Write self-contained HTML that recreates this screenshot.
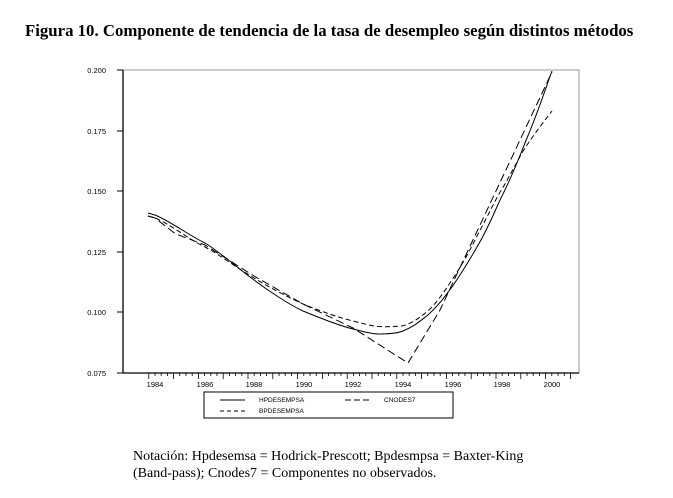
<!DOCTYPE html>
<html><head><meta charset="utf-8"><style>
body{margin:0;background:#fff;width:673px;height:498px;overflow:hidden;position:relative;font-family:"Liberation Serif",serif}
.t{position:absolute;left:25px;top:21px;font-weight:bold;font-size:16.8px;white-space:nowrap}
.c{position:absolute;left:133px;top:448px;font-size:14px;line-height:17px}
</style></head><body>
<div class="t">Figura 10. Componente de tendencia de la tasa de desempleo según distintos métodos</div>
<svg width="673" height="498" style="position:absolute;left:0;top:0" font-family="Liberation Sans, sans-serif">
<rect x="123" y="70" width="456" height="303" fill="none" stroke="#999" stroke-width="1"/>
<line x1="123" y1="70" x2="123" y2="373" stroke="#000" stroke-width="1.3"/>
<line x1="123" y1="373" x2="579" y2="373" stroke="#000" stroke-width="1.3"/>
<g font-size="7.5" text-anchor="end">
<text x="106" y="73">0.200</text><line x1="117" y1="70" x2="123" y2="70" stroke="#000"/>
<text x="106" y="134">0.175</text><line x1="117" y1="131" x2="123" y2="131" stroke="#000"/>
<text x="106" y="194">0.150</text><line x1="117" y1="191" x2="123" y2="191" stroke="#000"/>
<text x="106" y="255">0.125</text><line x1="117" y1="252" x2="123" y2="252" stroke="#000"/>
<text x="106" y="315">0.100</text><line x1="117" y1="312" x2="123" y2="312" stroke="#000"/>
<text x="106" y="376">0.075</text><line x1="117" y1="373" x2="123" y2="373" stroke="#000"/>
</g>
<g stroke="#000" stroke-width="0.8">
<path d="M148.8 373v6M173.6 373v6M198.4 373v6M223.2 373v6M248 373v6M272.8 373v6M297.6 373v6M322.4 373v6M347.2 373v6M372 373v6M396.8 373v6M421.6 373v6M446.4 373v6M471.2 373v6M496 373v6M520.8 373v6M545.6 373v6M570.4 373v6"/>
<path d="M155 373v3M161.2 373v3M167.4 373v3M179.8 373v3M186 373v3M192.2 373v3M204.6 373v3M210.8 373v3M217 373v3M229.4 373v3M235.6 373v3M241.8 373v3M254.2 373v3M260.4 373v3M266.6 373v3M279 373v3M285.2 373v3M291.4 373v3M303.8 373v3M310 373v3M316.2 373v3M328.6 373v3M334.8 373v3M341 373v3M353.4 373v3M359.6 373v3M365.8 373v3M378.2 373v3M384.4 373v3M390.6 373v3M403 373v3M409.2 373v3M415.4 373v3M427.8 373v3M434 373v3M440.2 373v3M452.6 373v3M458.8 373v3M465 373v3M477.4 373v3M483.6 373v3M489.8 373v3M502.2 373v3M508.4 373v3M514.6 373v3M527 373v3M533.2 373v3M539.4 373v3M551.8 373v3M558 373v3M564.2 373v3"/>
</g>
<g font-size="7.5" text-anchor="middle">
<text x="155" y="387">1984</text><text x="205" y="387">1986</text><text x="254" y="387">1988</text><text x="304" y="387">1990</text><text x="353" y="387">1992</text><text x="403" y="387">1994</text><text x="453" y="387">1996</text><text x="502" y="387">1998</text><text x="552" y="387">2000</text>
</g>
<g fill="none" stroke="#000" stroke-width="1">
<path d="M148 213 L155 215 C170 221 190 236 205 243 C220 252 240 270 254 280 C270 292 290 305 303 311 C320 318 340 326 353 329 C365 332 372 334 378 334 C390 334 398 333 403 331 C415 326 420 321 428 315 C440 304 445 296 452 287 C465 268 470 259 477 247 C490 225 495 210 502 196 C515 170 520 155 527 138 C538 112 545 90 552 71"/>
<path d="M148 216 L155 218 C170 224 190 240 205 247 C220 255 240 270 254 278 C270 288 290 298 303 304 C320 311 340 318 353 321 C365 324 372 326 378 326.5 C390 327 398 326.5 403 325.7 C415 322 420 317 428 311 C440 299 445 290 452 280 C465 260 470 250 477 236 C490 212 495 200 502 189 C515 167 520 155 527 145 C538 129 545 120 552 111" stroke-dasharray="5,3"/>
<path d="M148 216 L155 218 L173 232 L176 234 L205 245 L254 276 L303 304 L353 328 L408 363 L440 310 L552 72" stroke-dasharray="8,4"/>
</g>
<rect x="204" y="392" width="249" height="26" fill="#fff" stroke="#000" stroke-width="1"/>
<g stroke="#000" stroke-width="1">
<line x1="220" y1="400" x2="245" y2="400"/>
<line x1="345" y1="400" x2="370" y2="400" stroke-dasharray="6,3"/>
<line x1="220" y1="411" x2="245" y2="411" stroke-dasharray="4,3"/>
</g>
<g font-size="6.5">
<text x="259" y="402">HPDESEMPSA</text><text x="384" y="402">CNODES7</text><text x="259" y="413">BPDESEMPSA</text>
</g>
</svg>
<div class="c">Notación: Hpdesemsa = Hodrick-Prescott; Bpdesmpsa = Baxter-King<br>(Band-pass); Cnodes7 = Componentes no observados.</div>
</body></html>
